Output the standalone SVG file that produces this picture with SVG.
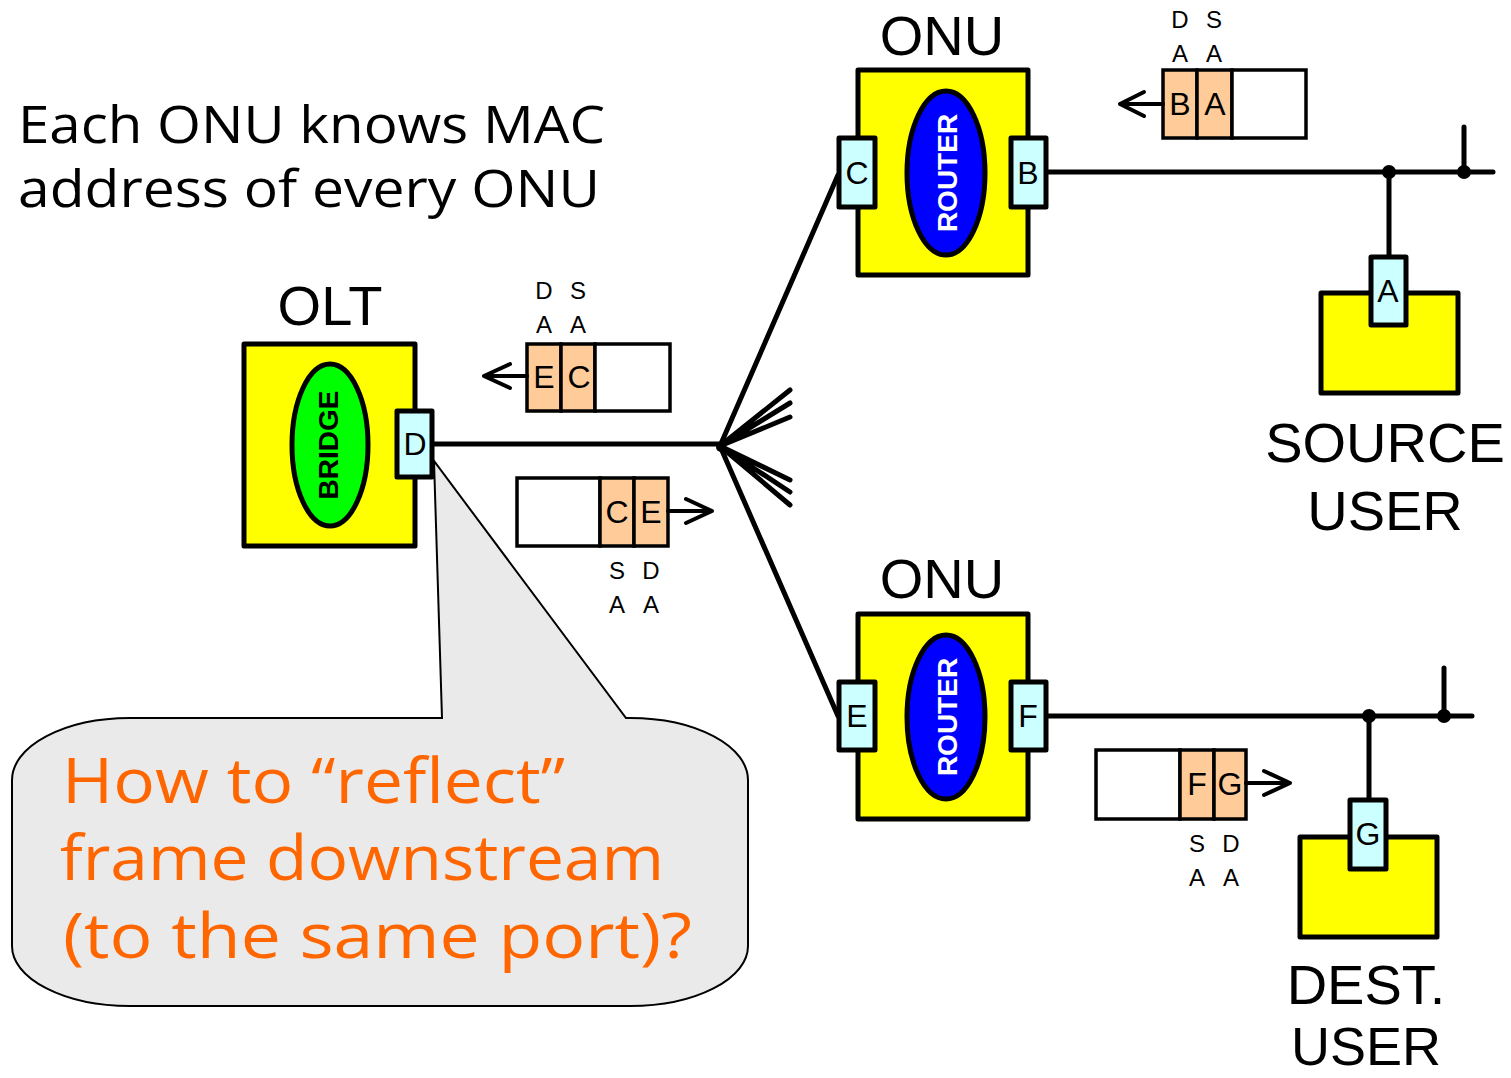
<svg xmlns="http://www.w3.org/2000/svg" width="1511" height="1078" viewBox="0 0 1511 1078">
<style>
.box{fill:#FFFF00;stroke:#000;stroke-width:5;stroke-linejoin:round}
.port{fill:#CCFFFF;stroke:#000;stroke-width:5;stroke-linejoin:round}
.cell{fill:#FFCC99;stroke:#000;stroke-width:3.5}
.blank{fill:#fff;stroke:#000;stroke-width:3.5}
.wire{fill:none;stroke:#000;stroke-width:5;stroke-linecap:round}
.arr{fill:none;stroke:#000;stroke-width:4;stroke-linecap:round;stroke-linejoin:round}
.t{font-family:"Liberation Sans",Arial,sans-serif;fill:#000}
.big{font-size:56px}
.pl{font-size:32px;text-anchor:middle}
.sm{font-size:24px;text-anchor:middle}
.ov{font-family:"Liberation Sans",Arial,sans-serif;font-weight:bold;font-size:28px;text-anchor:middle}
.hum{font-family:"Open Sans","DejaVu Sans",sans-serif}
</style>

<text class="hum" x="18" y="143" font-size="51" textLength="587" lengthAdjust="spacingAndGlyphs">Each ONU knows MAC</text>
<text class="hum" x="18" y="207" font-size="51" textLength="582" lengthAdjust="spacingAndGlyphs">address of every ONU</text>

<g id="connectors">
  <path class="wire" d="M432 444 H720"/>
  <path class="wire" d="M720 446 L838 175"/>
  <path class="wire" d="M720 446 L838 716"/>
  <path class="wire" d="M720 446 L790 390 M720 446 L790 403 M720 446 L790 417 M720 446 L790 480 M720 446 L790 492 M720 446 L790 505"/>
  <circle cx="721" cy="447" r="5"/>
  <path class="wire" d="M1046 172 H1493 M1464 172 V127 M1389 172 V258"/>
  <circle cx="1389" cy="172" r="7"/>
  <circle cx="1464" cy="172" r="7"/>
  <path class="wire" d="M1046 716 H1472 M1444 716 V668 M1369 716 V800"/>
  <circle cx="1369" cy="716" r="7"/>
  <circle cx="1444" cy="716" r="7"/>
</g>

<g id="callout">
  <path d="M442 718 L434 461 L626 718 H630 A118 62 0 0 1 748 780 V946 A118 60 0 0 1 630 1006 H130 A118 60 0 0 1 12 946 V780 A118 62 0 0 1 130 718 Z" fill="#EAEAEA" stroke="#000" stroke-width="2"/>
  <g class="hum" fill="#FF6600" font-size="62">
    <text x="62" y="803" textLength="503" lengthAdjust="spacingAndGlyphs">How to “reflect”</text>
    <text x="60" y="880" textLength="604" lengthAdjust="spacingAndGlyphs">frame downstream</text>
    <text x="63" y="958" textLength="629" lengthAdjust="spacingAndGlyphs">(to the same port)?</text>
  </g>
</g>

<g id="olt">
  <text class="t big" x="330" y="325" text-anchor="middle">OLT</text>
  <rect class="box" x="244" y="344" width="171" height="202"/>
  <ellipse cx="330" cy="445" rx="38" ry="81" fill="#00FF00" stroke="#000" stroke-width="5"/>
  <text class="ov" fill="#000" transform="translate(338 445) rotate(-90)">BRIDGE</text>
  <rect class="port" x="397" y="411" width="35" height="66"/>
  <text class="t pl" x="415" y="455">D</text>
</g>

<g id="onu-top">
  <text class="t big" x="942" y="55" text-anchor="middle">ONU</text>
  <rect class="box" x="858" y="70" width="170" height="205"/>
  <ellipse cx="946" cy="173" rx="39" ry="82" fill="#0000FF" stroke="#000" stroke-width="5"/>
  <text class="ov" fill="#fff" transform="translate(957 173) rotate(-90)">ROUTER</text>
  <rect class="port" x="839" y="138" width="36" height="69"/>
  <text class="t pl" x="857" y="184">C</text>
  <rect class="port" x="1011" y="138" width="35" height="69"/>
  <text class="t pl" x="1028" y="184">B</text>
</g>

<g id="onu-bottom">
  <text class="t big" x="942" y="598" text-anchor="middle">ONU</text>
  <rect class="box" x="858" y="614" width="170" height="205"/>
  <ellipse cx="946" cy="717" rx="39" ry="82" fill="#0000FF" stroke="#000" stroke-width="5"/>
  <text class="ov" fill="#fff" transform="translate(957 717) rotate(-90)">ROUTER</text>
  <rect class="port" x="839" y="682" width="36" height="68"/>
  <text class="t pl" x="857" y="727">E</text>
  <rect class="port" x="1011" y="682" width="35" height="68"/>
  <text class="t pl" x="1028" y="727">F</text>
</g>

<g id="source-user">
  <rect class="box" x="1321" y="293" width="137" height="100"/>
  <rect class="port" x="1371" y="257" width="35" height="68"/>
  <text class="t pl" x="1388" y="302">A</text>
  <text class="t big" x="1385" y="462" text-anchor="middle">SOURCE</text>
  <text class="t big" x="1385" y="530" text-anchor="middle">USER</text>
</g>

<g id="dest-user">
  <rect class="box" x="1300" y="837" width="137" height="100"/>
  <rect class="port" x="1350" y="800" width="36" height="69"/>
  <text class="t pl" x="1368" y="845">G</text>
  <text class="t big" x="1366" y="1004" text-anchor="middle">DEST.</text>
  <text class="t" x="1366" y="1065" font-size="54" text-anchor="middle">USER</text>
</g>

<g id="frame-ec">
  <rect class="cell" x="527" y="344" width="34" height="67"/>
  <rect class="cell" x="561" y="344" width="34" height="67"/>
  <rect class="blank" x="595" y="344" width="75" height="67"/>
  <text class="t pl" x="544" y="388">E</text>
  <text class="t pl" x="579" y="388">C</text>
  <path class="arr" d="M527 376 H484 M510 364 L484 376 L510 388"/>
  <text class="t sm" x="544" y="299">D</text>
  <text class="t sm" x="578" y="299">S</text>
  <text class="t sm" x="544" y="333">A</text>
  <text class="t sm" x="578" y="333">A</text>
</g>

<g id="frame-ce">
  <rect class="blank" x="517" y="478" width="83" height="68"/>
  <rect class="cell" x="600" y="478" width="34" height="68"/>
  <rect class="cell" x="634" y="478" width="34" height="68"/>
  <text class="t pl" x="617" y="523">C</text>
  <text class="t pl" x="651" y="523">E</text>
  <path class="arr" d="M668 511 H712 M686 499 L712 511 L686 523"/>
  <text class="t sm" x="617" y="579">S</text>
  <text class="t sm" x="651" y="579">D</text>
  <text class="t sm" x="617" y="613">A</text>
  <text class="t sm" x="651" y="613">A</text>
</g>

<g id="frame-ba">
  <rect class="cell" x="1163" y="70" width="34" height="68"/>
  <rect class="cell" x="1197" y="70" width="35" height="68"/>
  <rect class="blank" x="1232" y="70" width="74" height="68"/>
  <text class="t pl" x="1180" y="115">B</text>
  <text class="t pl" x="1215" y="115">A</text>
  <path class="arr" d="M1163 104 H1120 M1144 92 L1120 104 L1144 116"/>
  <text class="t sm" x="1180" y="28">D</text>
  <text class="t sm" x="1214" y="28">S</text>
  <text class="t sm" x="1180" y="62">A</text>
  <text class="t sm" x="1214" y="62">A</text>
</g>

<g id="frame-fg">
  <rect class="blank" x="1096" y="750" width="84" height="69"/>
  <rect class="cell" x="1180" y="750" width="34" height="69"/>
  <rect class="cell" x="1214" y="750" width="32" height="69"/>
  <text class="t pl" x="1197" y="795">F</text>
  <text class="t pl" x="1230" y="795">G</text>
  <path class="arr" d="M1246 783 H1290 M1264 771 L1290 783 L1264 795"/>
  <text class="t sm" x="1197" y="852">S</text>
  <text class="t sm" x="1231" y="852">D</text>
  <text class="t sm" x="1197" y="886">A</text>
  <text class="t sm" x="1231" y="886">A</text>
</g>
</svg>
